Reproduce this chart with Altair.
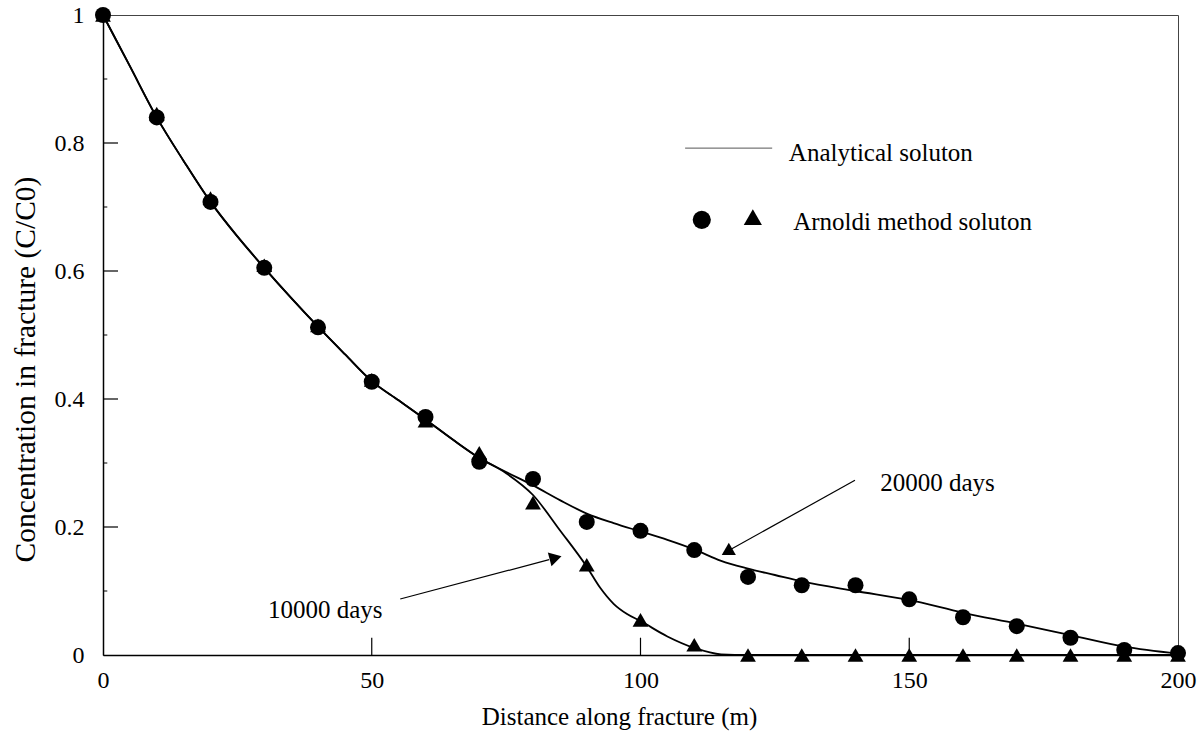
import altair as alt
import pandas as pd

FONT = "Liberation Serif"

# Analytical solution, 20000 days
a20_x = [0, 5, 10, 15, 20, 25, 30, 35, 40, 45, 50, 55, 60, 65, 70, 75, 80, 85, 90, 95, 100,
         105, 110, 115, 120, 125, 130, 140, 150, 160, 170, 180, 190, 200]
a20_y = [1.0, 0.92, 0.84, 0.772, 0.708, 0.654, 0.605, 0.558, 0.513, 0.47, 0.428, 0.398, 0.368,
         0.337, 0.308, 0.286, 0.265, 0.242, 0.221, 0.206, 0.193, 0.18, 0.165, 0.147, 0.135,
         0.125, 0.115, 0.1, 0.086, 0.066, 0.049, 0.031, 0.013, 0.002]

# Analytical solution, 10000 days
a10_x = [0, 5, 10, 15, 20, 25, 30, 35, 40, 45, 50, 55, 60, 65, 70, 75, 80, 85, 90, 92.5, 95,
         97.5, 100, 105, 110, 115, 120, 140, 160, 180, 200]
a10_y = [1.0, 0.92, 0.84, 0.772, 0.708, 0.654, 0.605, 0.558, 0.513, 0.47, 0.428, 0.398, 0.368,
         0.337, 0.308, 0.284, 0.25, 0.195, 0.138, 0.105, 0.08, 0.064, 0.053, 0.029, 0.011,
         0.001, 0.0, 0.0, 0.0, 0.0, 0.0]

# Arnoldi method solution
num_x = [0, 10, 20, 30, 40, 50, 60, 70, 80, 90, 100, 110, 120, 130, 140, 150, 160, 170, 180, 190, 200]
circ_y = [1.0, 0.84, 0.708, 0.605, 0.512, 0.427, 0.372, 0.302, 0.275, 0.208, 0.194, 0.164,
          0.122, 0.109, 0.109, 0.087, 0.059, 0.045, 0.027, 0.008, 0.003]
tri_y = [1.0, 0.846, 0.714, 0.609, 0.515, 0.43, 0.366, 0.316, 0.238, 0.141, 0.055, 0.016,
         0.0, 0.0, 0.0, 0.0, 0.0, 0.0, 0.0, 0.0, 0.0]

x_ticks = [0, 50, 100, 150, 200]
y_ticks = [0, 0.2, 0.4, 0.6, 0.8, 1.0]
y_minor = [0.1, 0.3, 0.5, 0.7, 0.9]

lines = pd.DataFrame(
    [{"x": x, "y": y, "s": "20000"} for x, y in zip(a20_x, a20_y)]
    + [{"x": x, "y": y, "s": "10000"} for x, y in zip(a10_x, a10_y)]
)
circles = pd.DataFrame({"x": num_x, "y": circ_y})
triangles = pd.DataFrame({"x": num_x, "y": tri_y})

xs = alt.Scale(domain=[0, 200], nice=False)
ys = alt.Scale(domain=[0, 1], nice=False)

xax = alt.Axis(values=x_ticks, ticks=False, tickSize=0, labelPadding=13, labelFontSize=24,
               labelFlush=False,
               labelFont=FONT, labelColor="black", domainColor="black", domainWidth=1.5,
               grid=False, title="Distance along fracture (m)", titleFont=FONT,
               titleFontSize=25, titleFontWeight="normal", titleColor="black",
               titleX=516, titleY=61, titleBaseline="middle", titleAlign="center")
yax = alt.Axis(values=y_ticks, format="~g", ticks=False, tickSize=0, labelPadding=19,
               labelFlush=False,
               labelFontSize=24, labelFont=FONT, labelColor="black", domainColor="black",
               domainWidth=1.5, grid=False, title="Concentration in fracture (C/C0)",
               titleFont=FONT, titleFontSize=29.5, titleFontWeight="normal", titleColor="black",
               titleX=-78, titleY=354, titleBaseline="middle", titleAlign="center", titleAngle=270)

base_line = alt.Chart(lines).mark_line(color="black", strokeWidth=1.8, interpolate="monotone").encode(
    x=alt.X("x:Q", scale=xs, axis=xax),
    y=alt.Y("y:Q", scale=ys, axis=yax),
    detail="s:N",
)

tri = alt.Chart(triangles).mark_point(shape="triangle-up", filled=True, color="black",
                                       opacity=1, size=250).encode(
    x=alt.X("x:Q", scale=xs), y=alt.Y("y:Q", scale=ys))
circ = alt.Chart(circles).mark_point(shape="circle", filled=True, color="black",
                                     opacity=1, size=256).encode(
    x=alt.X("x:Q", scale=xs), y=alt.Y("y:Q", scale=ys))

# inward ticks
xt = pd.DataFrame({"x": x_ticks[1:-1]})
xtick = alt.Chart(xt).mark_rule(color="black", strokeWidth=1.2).encode(
    x=alt.X("x:Q", scale=xs), y=alt.datum(0), y2=alt.datum(0.027))
yt = pd.DataFrame({"y": y_ticks[1:-1]})
ytick = alt.Chart(yt).mark_rule(color="black", strokeWidth=1.2).encode(
    y=alt.Y("y:Q", scale=ys), x=alt.datum(0), x2=alt.datum(2.8))
ym = pd.DataFrame({"y": y_minor})
yminor = alt.Chart(ym).mark_rule(color="black", strokeWidth=1).encode(
    y=alt.Y("y:Q", scale=ys), x=alt.datum(0), x2=alt.datum(0.8))

# annotations
arrows = pd.DataFrame({"x": [139.9, 55.3], "y": [0.273, 0.0875],
                       "x2": [117.0, 83.0], "y2": [0.166, 0.149]})
arrow_lines = alt.Chart(arrows).mark_rule(color="black", strokeWidth=1.2).encode(
    x=alt.X("x:Q", scale=xs), y=alt.Y("y:Q", scale=ys), x2="x2:Q", y2="y2:Q")
heads = pd.DataFrame({"x": [116.1, 84.2], "y": [0.161, 0.152], "a": [240, 75]})
arrow_heads = alt.Chart(heads).mark_point(shape="triangle-up", filled=True, color="black",
                                          opacity=1, size=200).encode(
    x=alt.X("x:Q", scale=xs), y=alt.Y("y:Q", scale=ys), angle=alt.Angle("a:Q", scale=None))

labels = pd.DataFrame({
    "x": [144.6, 30.7, 127.6, 128.4],
    "y": [0.269, 0.070, 0.784, 0.677],
    "t": ["20000 days", "10000 days", "Analytical soluton", "Arnoldi method soluton"],
})
label_text = alt.Chart(labels).mark_text(align="left", baseline="middle", font=FONT,
                                         fontSize=25, color="black").encode(
    x=alt.X("x:Q", scale=xs), y=alt.Y("y:Q", scale=ys), text="t:N")

leg_line = alt.Chart(pd.DataFrame({"x": [108.3], "x2": [124.5], "y": [0.792]})).mark_rule(
    color="#555555", strokeWidth=1).encode(
    x=alt.X("x:Q", scale=xs), x2="x2:Q", y=alt.Y("y:Q", scale=ys))
leg_pts = pd.DataFrame({"x": [111.4, 120.9], "y": [0.680, 0.684], "sh": ["circle", "triangle-up"]})
leg_marks = alt.Chart(leg_pts).mark_point(filled=True, color="black", opacity=1, size=330).encode(
    x=alt.X("x:Q", scale=xs), y=alt.Y("y:Q", scale=ys),
    shape=alt.Shape("sh:N", scale=None, legend=None))

chart = alt.layer(
    xtick, ytick, yminor, base_line, tri, circ, arrow_lines, arrow_heads,
    label_text, leg_line, leg_marks,
).properties(
    width=1075, height=640,
    padding={"left": 103, "top": 15, "right": 25, "bottom": 77},
    autosize="none",
    background="white",
).configure_view(stroke="#444444", strokeWidth=1)

chart.save("out.html", embed_options={"renderer": "svg", "actions": False})
